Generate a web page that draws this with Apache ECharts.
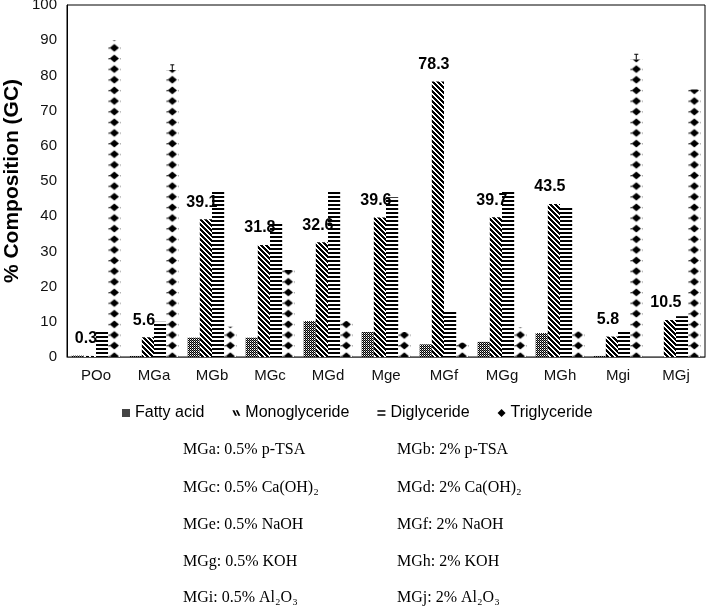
<!DOCTYPE html>
<html>
<head>
<meta charset="utf-8">
<script src="https://cdn.jsdelivr.net/npm/echarts@6/dist/echarts.min.js"></script>
<style>
  html, body { margin: 0; padding: 0; background: #fff; }
  #chart { width: 708px; height: 609px; }
</style>
</head>
<body>
<div id="chart"></div>
<script>
// ---- data ----
const categories = ["POo", "MGa", "MGb", "MGc", "MGd", "Mge", "MGf", "MGg", "MGh", "Mgi", "MGj"];
const fattyAcid     = [0.4, 0.3, 5.5, 5.5, 10.2, 7.1, 3.6, 4.3, 6.8, 0.3, 0];
const monoglyceride = [0.3, 5.6, 39.1, 31.8, 32.6, 39.6, 78.3, 39.7, 43.5, 5.8, 10.5];
const diglyceride   = [7.1, 10.0, 46.9, 38.0, 46.9, 45.4, 13.1, 46.9, 42.5, 7.3, 11.6];
const triglyceride  = [90.0, 81.5, 8.6, 24.7, 10.2, 7.1, 4.1, 8.4, 7.3, 84.5, 76.0];
const triglycerideErr = [0, 1.5, 0, 0, 0, 0, 0, 0, 0, 1.5, 0];
const seriesNames = ["Fatty acid", "Monoglyceride", "Diglyceride", "Triglyceride"];
const yTicks = [0, 10, 20, 30, 40, 50, 60, 70, 80, 90, 100];
const notes = [
  ["MGa: 0.5% p-TSA", "MGb: 2% p-TSA"],
  ["MGc: 0.5% Ca(OH)\u2082", "MGd: 2% Ca(OH)\u2082"],
  ["MGe: 0.5% NaOH", "MGf: 2% NaOH"],
  ["MGg: 0.5% KOH", "MGh: 2% KOH"],
  ["MGi: 0.5% Al\u2082O\u2083", "MGj: 2% Al\u2082O\u2083"]
];

// ---- patterns ----
function makePattern(w, h, draw, extra) {
  const c = document.createElement('canvas');
  c.width = w; c.height = h;
  const ctx = c.getContext('2d');
  ctx.fillStyle = '#fff'; ctx.fillRect(0, 0, w, h);
  ctx.fillStyle = '#000';
  draw(ctx);
  return Object.assign({ image: c, repeat: 'repeat' }, extra || {});
}
const patFA = makePattern(2, 2, ctx => {
  ctx.fillStyle = '#000'; ctx.fillRect(0, 0, 1, 1); ctx.fillRect(1, 1, 1, 1);
  ctx.fillStyle = '#777'; ctx.fillRect(1, 0, 1, 1);
});
const patMG = makePattern(5, 5, ctx => {
  for (let i = 0; i < 5; i++) {
    ctx.fillRect(i, i, 1, 1); ctx.fillRect((i + 1) % 5, i, 1, 1); ctx.fillRect((i + 2) % 5, i, 1, 1);
  }
});
const patDG = makePattern(4, 4, ctx => { ctx.fillRect(0, 0, 4, 2); });
const patTG = makePattern(12, 11, ctx => {
  ctx.beginPath();
  ctx.moveTo(6, 1.5); ctx.lineTo(10.8, 5.5); ctx.lineTo(6, 9.5); ctx.lineTo(1.2, 5.5); ctx.closePath();
  ctx.fill();
  ctx.fillRect(0, 5, 1, 1.5);
}, { scaleX: 58 / 60, scaleY: 58 / 60, x: 4.1, y: 0 });

const barGapPct = 0.16;
const chart = echarts.init(document.getElementById('chart'), null, { renderer: 'canvas' });

const graphics = [];
const noteRowsY = [450, 488, 525, 562, 598];
const noteColsX = [183, 397];
notes.forEach((row, r) => row.forEach((t, c) => {
  graphics.push({
    type: 'text', x: noteColsX[c], y: noteRowsY[r],
    style: { text: t, font: '16px "Liberation Serif", "Times New Roman", serif', fill: '#000',
             verticalAlign: 'middle', textVerticalAlign: 'middle' }
  });
}));

const labelStyle = { show: true, position: 'top', distance: 9, offset: [-4, 0], color: '#000',
  fontSize: 16, fontWeight: 'bold', fontFamily: 'Liberation Sans, Arial, sans-serif' };

const errData = [];
triglycerideErr.forEach((e, i) => { if (e) errData.push([i, triglyceride[i], triglyceride[i] + e]); });

chart.setOption({
  animation: false,
  backgroundColor: '#fff',
  textStyle: { fontFamily: 'Liberation Sans, Arial, sans-serif' },
  grid: { left: 67, right: 3, top: 5, bottom: 252, show: true, borderColor: '#000', borderWidth: 1,
          containLabel: false, outerBoundsMode: 'none' },
  legend: {
    left: 117, top: 400, itemWidth: 8, itemHeight: 8, itemGap: 28,
    textStyle: { fontSize: 16, color: '#000', fontFamily: 'Liberation Sans, Arial, sans-serif' },
    data: [
      { name: seriesNames[0], icon: 'rect', itemStyle: { color: '#444' } },
      { name: seriesNames[1], icon: 'path://M0,0L3,0L7,8L4,8Z M5,0L8,0L12,8L9,8Z', itemStyle: { color: '#000' } },
      { name: seriesNames[2], icon: 'path://M0,0H10V2H0Z M0,5H10V7H0Z', itemStyle: { color: '#000' } },
      { name: seriesNames[3], icon: 'diamond', itemStyle: { color: '#000' } }
    ]
  },
  xAxis: {
    type: 'category', data: categories,
    axisLine: { show: true, lineStyle: { color: '#555', width: 1 } },
    axisTick: { show: false },
    axisLabel: { fontSize: 15, color: '#111', margin: 11 }
  },
  yAxis: {
    type: 'value', min: 0, max: 100, interval: 10,
    name: '% Composition (GC)', nameLocation: 'middle', nameGap: 44, nameMoveOverlap: false,
    nameTextStyle: { fontSize: 21, fontWeight: 'bold', color: '#000' },
    axisLine: { show: true, lineStyle: { color: '#000', width: 1 } },
    axisTick: { show: false },
    splitLine: { show: false },
    axisLabel: { fontSize: 15, color: '#111', margin: 10,
      formatter: v => (yTicks.indexOf(v) >= 0 ? String(v) : '') }
  },
  series: [
    { name: seriesNames[0], type: 'bar', data: fattyAcid, barGap: '0%', barCategoryGap: (barGapPct * 100) + '%',
      itemStyle: { color: patFA } },
    { name: seriesNames[1], type: 'bar', data: monoglyceride, itemStyle: { color: patMG }, label: labelStyle, z: 4 },
    { name: seriesNames[2], type: 'bar', data: diglyceride, itemStyle: { color: patDG } },
    { name: seriesNames[3], type: 'bar', data: triglyceride, itemStyle: { color: patTG } },
    { name: 'err', type: 'custom', data: errData, z: 5,
      renderItem: function (params, api) {
        const x = api.value(0);
        const lo = api.coord([x, api.value(1)]);
        const hi = api.coord([x, api.value(2)]);
        const catW = api.size([1, 0])[0];
        const bw = catW * (1 - barGapPct) / 4;
        const cx = lo[0] + bw * 1.5;
        return { type: 'group', children: [
          { type: 'line', shape: { x1: cx, y1: lo[1], x2: cx, y2: hi[1] }, style: { stroke: '#000', lineWidth: 1 } },
          { type: 'line', shape: { x1: cx - 2, y1: hi[1], x2: cx + 2, y2: hi[1] }, style: { stroke: '#000', lineWidth: 1 } }
        ] };
      }
    }
  ],
  graphic: graphics
});
</script>
</body>
</html>
